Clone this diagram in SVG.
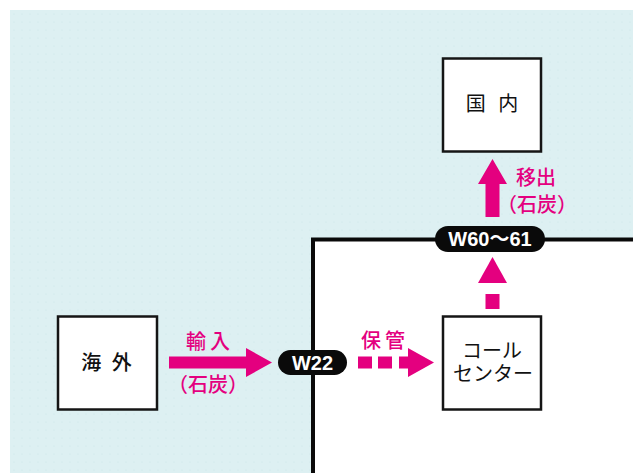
<svg xmlns="http://www.w3.org/2000/svg" width="633" height="473" viewBox="0 0 633 473">
  <defs>
    <pattern id="dots" x="10" y="10" width="8" height="8" patternUnits="userSpaceOnUse">
      <circle cx="4" cy="4" r="0.6" fill="#c9e3e7"/>
    </pattern>
    <style>
      .box { fill: #ffffff; stroke: #151515; stroke-width: 2.5; }
      .node-text { font-family: "Noto Sans CJK JP", sans-serif; font-size: 20px; fill: #111111; text-anchor: middle; }
      .pill { fill: #0a0a0a; }
      .pill-text { font-family: "Liberation Sans", "Noto Sans CJK JP", sans-serif; font-weight: bold; font-size: 20px; fill: #ffffff; text-anchor: middle; }
      .arrow { fill: #e4007f; }
      .label { font-family: "Noto Sans CJK JP", sans-serif; font-size: 20px; font-weight: 500; fill: #e4007f; text-anchor: middle; }
    </style>
  </defs>

  <!-- background sea area -->
  <rect x="0" y="0" width="633" height="473" fill="#ffffff"/>
  <rect x="10" y="10" width="623" height="463" fill="#ddf0f2"/>
  <rect x="10" y="10" width="623" height="463" fill="url(#dots)"/>

  <!-- country area -->
  <g id="country-area">
    <rect x="313" y="239.5" width="322" height="236" fill="#ffffff"/>
    <path d="M313,476 V239.5 H636" fill="none" stroke="#0a0a0a" stroke-width="4"/>
  </g>

  <!-- connectors -->
  <g id="connectors">
    <!-- import arrow -->
    <polygon class="arrow" points="169,356.5 246,356.5 246,348 272,362.5 246,377 246,368.5 169,368.5"/>
    <text class="label" x="210" y="349" letter-spacing="4">輸入</text>
    <text class="label" x="208" y="392">（石炭）</text>

    <!-- storage dashed arrow -->
    <rect class="arrow" x="358" y="356.5" width="14" height="12"/>
    <rect class="arrow" x="378" y="356.5" width="14" height="12"/>
    <polygon class="arrow" points="399,356.5 408,356.5 408,348 434,362.5 408,377 408,368.5 399,368.5"/>
    <text class="label" x="385" y="348" letter-spacing="4">保管</text>

    <!-- dashed up arrow from coal center -->
    <rect class="arrow" x="485.5" y="294" width="14" height="15"/>
    <polygon class="arrow" points="492.5,257 507,283 478,283"/>

    <!-- shipment up arrow to domestic -->
    <polygon class="arrow" points="492.5,159 507,184 499.5,184 499.5,217 485.5,217 485.5,184 478,184"/>
    <text class="label" font-size="19"><tspan x="536" y="185">移出</tspan><tspan x="537" y="212">（石炭）</tspan></text>
  </g>

  <!-- nodes -->
  <g id="node-kaigai">
    <rect class="box" x="58" y="316.5" width="99" height="93"/>
    <text class="node-text" x="108" y="370" font-size="21" font-weight="500" xml:space="preserve" letter-spacing="3">海 外</text>
  </g>

  <g id="node-kokunai">
    <rect class="box" x="443" y="58.5" width="98" height="93"/>
    <text class="node-text" x="494" y="111" font-size="21" xml:space="preserve" letter-spacing="4">国 内</text>
  </g>

  <g id="node-coal-center">
    <rect class="box" x="443" y="316.5" width="98" height="93"/>
    <text class="node-text" font-size="19"><tspan x="492" y="358">コール</tspan><tspan x="493" y="381">センター</tspan></text>
  </g>

  <g id="node-w22">
    <rect class="pill" x="278" y="350" width="69" height="25" rx="12.5"/>
    <text class="pill-text" x="312.5" y="369.5">W22</text>
  </g>

  <g id="node-w60">
    <rect class="pill" x="435" y="226" width="110" height="26" rx="13"/>
    <text class="pill-text" x="490" y="246">W60～61</text>
  </g>
</svg>
